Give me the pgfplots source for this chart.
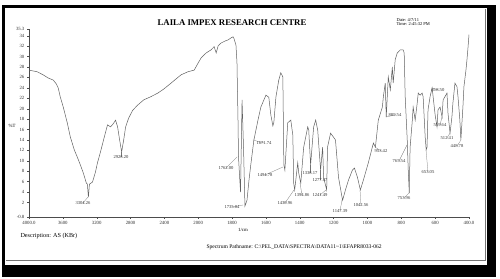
\documentclass[border=0pt]{standalone}
\usepackage{fontspec}
\setmainfont{Liberation Serif}
\usepackage{pgfplots}
\pgfplotsset{compat=1.18}
\usepackage{pgfplotstable}
\pgfplotstableread{
wn T
4000 27.4
3905 27.1
3833 26.5
3774 25.9
3714 25.5
3679 24.8
3655 24.0
3631 22.3
3595 20.3
3548 17.3
3512 14.6
3465 12.1
3429 10.7
3393 9.2
3357 7.6
3322 5.7
3310 5.5
3298 3.0
3286 5.5
3250 5.9
3215 7.8
3191 9.6
3155 11.7
3119 14.0
3072 16.9
3036 16.5
3000 17.2
2977 17.8
2953 16.5
2929 14.0
2905 11.7
2881 14.0
2858 16.5
2822 18.2
2774 19.7
2715 20.7
2643 21.7
2560 22.3
2477 23.0
2405 23.8
2322 24.9
2263 25.7
2203 26.5
2120 27.1
2048 27.4
2000 28.8
1982 29.8
1953 30.7
1924 31.3
1906 31.9
1894 30.7
1882 32.1
1865 32.6
1841 33.0
1824 33.2
1806 33.6
1794 33.8
1788 33.4
1777 32.2
1771 28.8
1765 17.8
1762 10.7
1756 7.2
1750 4.0
1741 21.7
1732 12.1
1724 1.3
1712 2.4
1700 6.3
1688 9.6
1671 14.0
1647 17.8
1630 20.3
1600 22.6
1583 22.2
1571 18.8
1559 16.7
1553 17.4
1541 22.2
1524 25.5
1512 26.9
1500 26.1
1494 9.2
1488 8.2
1471 17.3
1453 17.8
1441 14.9
1436 5.7
1430 4.4
1412 9.6
1406 7.6
1394 5.7
1377 12.6
1353 16.5
1347 15.9
1336 9.2
1318 16.5
1306 17.8
1294 15.9
1277 8.2
1265 12.6
1259 6.8
1241 4.4
1236 12.6
1218 15.3
1200 14.5
1189 14.0
1171 6.8
1147 2.4
1130 4.4
1112 6.3
1089 8.2
1077 8.6
1059 6.8
1042 4.4
1024 6.3
995 9.6
965 13.4
953 12.6
936 17.8
912 20.3
906 22.3
895 24.9
889 18.4
877 26.1
865 23.6
853 28.0
848 24.9
836 29.4
824 30.7
806 31.3
789 31.3
783 30.7
777 22.3
765 14.0
759 8.2
753 3.8
748 12.6
736 17.3
730 20.3
718 17.8
706 21.1
700 23.0
689 22.6
677 23.0
671 22.3
659 14.6
653 12.1
648 12.6
642 19.8
630 22.3
618 24.0
612 22.3
600 18.8
589 16.5
583 19.8
571 20.3
559 18.4
553 21.7
542 22.3
530 23.0
524 19.1
512 15.3
501 18.4
495 21.1
483 24.9
471 24.2
465 22.3
454 17.8
448 14.0
436 20.3
430 24.2
418 27.4
412 29.4
406 31.7
400 34.2
}\spectrum

\newcommand{\pk}[5]{%
  \draw[black!55,line width=0.25bp] (#1,#2) -- (#3,#4);
  \node[inner sep=0.3bp,text=black!80,font=\fontsize{4.6}{5}\selectfont] at (#1,#2) {#5};}

\begin{document}
\begin{tikzpicture}
\useasboundingbox (0,0) rectangle (500bp,279bp);
\fill[white] (0,0) rectangle (500bp,279bp);
\begin{scope}[shift={(0bp,279bp)},x=1bp,y=-1bp]
  \fill[black] (2,5) rectangle (496,277);
  \fill[white] (5,8) rectangle (487,265);
  \draw[black!55,line width=0.6bp] (485,9) -- (485,260) -- (6,260);
\end{scope}
\begin{axis}[
  at={(29bp,62bp)}, anchor=south west,
  scale only axis, width=440bp, height=188bp,
  x coord trafo/.code={\pgfmathparse{#1>=2000 ? (4000-#1)/2 : 3000-#1}},
  x coord inv trafo/.code={\pgfmathparse{#1<=1000 ? 4000-2*#1 : 3000-#1}},
  xmin=4000, xmax=400, ymin=-0.8, ymax=35.3,
  axis x line*=bottom, axis y line*=left,
  axis line style={black!70,line width=0.45bp},
  tick style={black!70,line width=0.3bp},
  tick align=outside,
  major tick length=1.6bp, minor tick length=1bp,
  minor x tick num=3,
  xtick={4000,3600,3200,2800,2400,2000,1800,1600,1400,1200,1000,800,600,400},
  xticklabels={4000.0,3600,3200,2800,2400,2000,1800,1600,1400,1200,1000,800,600,400.0},
  ytick={-0.8,2,4,6,8,10,12,14,16,18,20,22,24,26,28,30,32,34,35.3},
  yticklabels={-0.8,2,4,6,8,10,12,14,16,18,20,22,24,26,28,30,32,34,35.3},
  ticklabel style={font=\fontsize{4.8}{5}\selectfont,text=black!80},
  xticklabel style={yshift=0.5bp},
  yticklabel style={xshift=0.5bp},
  /pgf/number format/assume math mode=true,
]
\addplot[black!62,line width=0.5bp] table[x=wn,y=T]{\spectrum};
\end{axis}
\begin{scope}[shift={(0bp,279bp)},x=1bp,y=-1bp]
  \node[font=\fontsize{8.8}{9}\selectfont\bfseries] at (232,23) {LAILA IMPEX RESEARCH CENTRE};
  \node[anchor=west,align=left,font=\fontsize{4.5}{4.4}\selectfont] at (393,22) {Date: 4/7/11\\Time: 2:45:32 PM};
  \node[font=\fontsize{4.8}{5}\selectfont] at (12,126) {\%T};
  \node[font=\fontsize{4.8}{5}\selectfont] at (243,230) {1/cm};
  \node[anchor=west,font=\fontsize{6.2}{7}\selectfont] at (17,236) {Description: AS (KBr)};
  \node[anchor=west,font=\fontsize{5.6}{7}\selectfont] at (203,247) {Spectrum Pathname: C:\textbackslash PEL\_DATA\textbackslash SPECTRA\textbackslash DATA11\textasciitilde1\textbackslash EFAPR8033-062};
  \pk{83}{203}{88}{197}{3304.26}
  \pk{121}{157}{121}{152}{2926.20}
  \pk{226}{168}{237}{157}{1762.00}
  \pk{232}{207}{243}{205}{1735.04}
  \pk{264}{143}{253}{140}{1671.74}
  \pk{265}{175}{283}{167}{1494.78}
  \pk{285}{203}{294}{190}{1430.96}
  \pk{302}{195}{300}{183}{1394.86}
  \pk{310}{173}{310}{165}{1336.17}
  \pk{320}{180}{320}{170}{1277.87}
  \pk{320}{195}{326}{190}{1241.49}
  \pk{340}{211}{342}{200}{1147.39}
  \pk{361}{205}{360}{190}{1042.56}
  \pk{381}{151}{375}{147}{953.42}
  \pk{395}{115}{386}{117}{889.54}
  \pk{404}{198}{409}{193}{753.96}
  \pk{399}{161}{407}{145}{765.54}
  \pk{428}{172}{426}{150}{653.05}
  \pk{438}{90}{432}{88}{618.50}
  \pk{440}{125}{442}{117}{559.64}
  \pk{447}{138}{450}{133}{512.41}
  \pk{457}{146}{461}{140}{448.78}
\end{scope}
\end{tikzpicture}
\end{document}
